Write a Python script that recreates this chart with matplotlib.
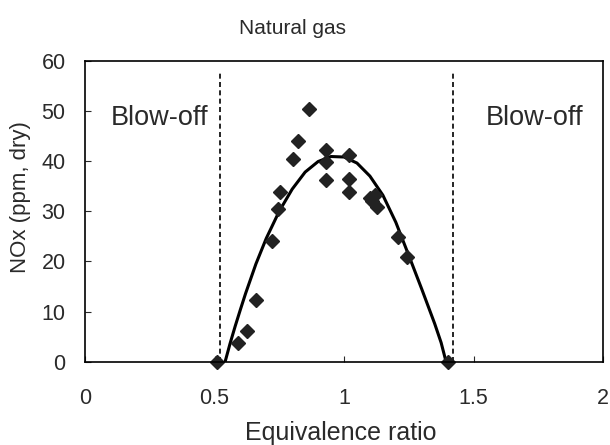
import numpy as np
import matplotlib.pyplot as plt

plt.rcParams['font.family'] = ['Liberation Sans', 'DejaVu Sans']

# measured points (equivalence ratio, NOx ppm dry)
phi = [0.511, 0.592, 0.624, 0.660, 0.721, 0.744, 0.753, 0.804, 0.821, 0.865,
       0.929, 0.929, 0.929, 1.019, 1.019, 1.019, 1.100, 1.110, 1.120, 1.126,
       1.210, 1.242, 1.400]
nox = [0, 3.8, 6.2, 12.2, 24.1, 30.4, 33.9, 40.5, 44.0, 50.4,
       42.2, 39.9, 36.3, 41.2, 36.4, 33.9, 32.6, 32.0, 33.2, 30.9,
       24.9, 20.9, 0]

# trend curve
fit_phi = [0.541, 0.56, 0.58, 0.60, 0.62, 0.66, 0.70, 0.75, 0.80, 0.85, 0.90,
           0.95, 1.00, 1.05, 1.10, 1.15, 1.20, 1.25, 1.30, 1.35, 1.375, 1.394]
fit_nox = [0, 3.6, 7.1, 10.4, 13.6, 19.5, 24.6, 30.0, 34.4, 37.8, 39.9,
           40.9, 40.8, 39.6, 37.0, 33.2, 27.8, 21.2, 14.5, 7.6, 3.8, 0]

# blow-off limits
limits = [0.521, 1.42]

xticks = [0, 0.5, 1, 1.5, 2]
xticklabels = ['0', '0.5', '1', '1.5', '2']
yticks = [0, 10, 20, 30, 40, 50, 60]

txt = '#2a2a2a'

fig = plt.figure(figsize=(6.1, 4.45), dpi=100)
ax = fig.add_axes([85/610, 1-361.7/445, 518/610, 301/445])

for xl in limits:
    ax.plot([xl, xl], [0, 57.7], color='black', lw=1.2, ls=(0, (3, 2)))

ax.plot(fit_phi, fit_nox, color='black', lw=2.2, solid_capstyle='round', solid_joinstyle='round')
ax.plot(phi, nox, ls='none', marker='D', ms=7.3, color='#222222', clip_on=False)

ax.text(0.286, 47.2, 'Blow-off', fontsize=19.5, ha='center', va='baseline', color=txt)
ax.text(1.737, 47.2, 'Blow-off', fontsize=19.5, ha='center', va='baseline', color=txt)

ax.set_xlim(0, 2)
ax.set_ylim(0, 60)
ax.set_xticks(xticks)
ax.set_xticklabels(xticklabels)
ax.set_yticks(yticks)
ax.tick_params(axis='x', direction='in', length=4, pad=19, labelsize=15.5, colors=txt)
ax.tick_params(axis='y', direction='in', length=4, pad=14, labelsize=15.5, colors=txt)
for s in ax.spines.values():
    s.set_linewidth(1.2)

fig.text(0.479, 1-34/445, 'Natural gas', fontsize=15, ha='center', va='baseline', color=txt)
fig.text(341/610, 1-440/445, 'Equivalence ratio', fontsize=18, ha='center', va='baseline', color=txt)
fig.text(21/610, 1-197/445, 'NOx (ppm, dry)', fontsize=16, ha='center', va='center', rotation=90, color=txt)

plt.savefig('out.png', dpi=100)
